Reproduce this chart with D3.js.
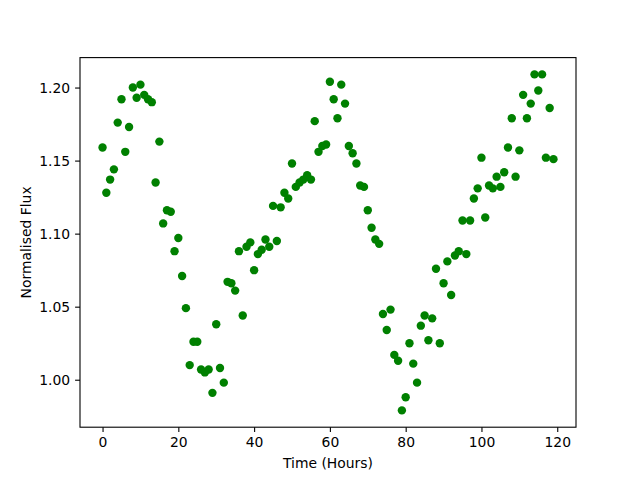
<!doctype html>
<html>
<head>
<meta charset="utf-8" />
<script src="https://d3js.org/d3.v7.min.js"></script>
<style>
  body { margin: 0; background: #fff; }
  text { font-family: "DejaVu Sans", sans-serif; }
</style>
</head>
<body>
<script>
// time in hours, one reading per hour
var hours = d3.range(0, 120);

// normalised flux
var flux = [
  1.159, 1.128, 1.137, 1.144, 1.176, 1.192, 1.156, 1.173, 1.200, 1.193,
  1.202, 1.195, 1.192, 1.190, 1.135, 1.163, 1.107, 1.116, 1.115, 1.088,
  1.097, 1.071, 1.049, 1.010, 1.026, 1.026, 1.007, 1.005, 1.007, 0.991,
  1.038, 1.008, 0.998, 1.067, 1.066, 1.061, 1.088, 1.044, 1.091, 1.094,
  1.075, 1.086, 1.089, 1.096, 1.091, 1.119, 1.095, 1.118, 1.128, 1.124,
  1.148, 1.132, 1.135, 1.137, 1.140, 1.137, 1.177, 1.156, 1.160, 1.161,
  1.204, 1.192, 1.179, 1.202, 1.189, 1.160, 1.155, 1.148, 1.133, 1.132,
  1.116, 1.104, 1.096, 1.093, 1.045, 1.034, 1.048, 1.017, 1.013, 0.979,
  0.988, 1.025, 1.011, 0.998, 1.037, 1.044, 1.027, 1.042, 1.076, 1.025,
  1.066, 1.081, 1.058, 1.085, 1.088, 1.109, 1.086, 1.109, 1.124, 1.131,
  1.152, 1.111, 1.133, 1.131, 1.139, 1.132, 1.142, 1.159, 1.179, 1.139,
  1.157, 1.195, 1.179, 1.189, 1.209, 1.198, 1.209, 1.152, 1.186, 1.151
];

var xTicks = [0, 20, 40, 60, 80, 100, 120];
var yTicks = [1.00, 1.05, 1.10, 1.15, 1.20];

var W = 640, H = 480;
var plotL = 80, plotR = 576, plotT = 57.6, plotB = 427.2;

var svg = d3.select("body").append("svg").attr("width", W).attr("height", H);

function padded(ext) {
  var m = (ext[1] - ext[0]) * 0.05;
  return [ext[0] - m, ext[1] + m];
}

var xScale = d3.scaleLinear().domain(padded(d3.extent(hours))).range([plotL, plotR]);
var yScale = d3.scaleLinear().domain(padded(d3.extent(flux))).range([plotB, plotT]);

// points
svg.append("g").selectAll("circle")
  .data(hours)
  .enter()
  .append("circle")
  .attr("cx", (d, i) => xScale(d))
  .attr("cy", (d, i) => yScale(flux[i]))
  .attr("r", 4.2)
  .style("fill", "#008000");

// axes
var xAxis = d3.axisBottom(xScale).tickValues(xTicks).tickFormat(d3.format("d"))
  .tickSizeInner(4.9).tickSizeOuter(0).tickPadding(4.9);
var yAxis = d3.axisLeft(yScale).tickValues(yTicks).tickFormat(d3.format(".2f"))
  .tickSizeInner(4.9).tickSizeOuter(0).tickPadding(4.9);

svg.append("g").attr("class", "xAxis")
  .attr("transform", `translate(0, ${plotB})`)
  .call(xAxis);
svg.append("g").attr("class", "yAxis")
  .attr("transform", `translate(${plotL}, 0)`)
  .call(yAxis);

svg.selectAll(".xAxis .domain, .yAxis .domain").remove();
svg.selectAll(".tick line").attr("stroke", "#000").attr("stroke-width", 1.1);
svg.selectAll(".tick text").attr("fill", "#000")
  .style("font-family", "'DejaVu Sans', sans-serif").style("font-size", "13.9px");

// frame
svg.append("rect")
  .attr("x", plotL).attr("y", plotT)
  .attr("width", plotR - plotL).attr("height", plotB - plotT)
  .attr("fill", "none").attr("stroke", "#000").attr("stroke-width", 1.1);

// axis labels
svg.append("text")
  .attr("x", (plotL + plotR) / 2).attr("y", 468)
  .attr("text-anchor", "middle")
  .style("font-size", "13.9px")
  .text("Time (Hours)");

svg.append("text")
  .attr("transform", `translate(31, ${(plotT + plotB) / 2}) rotate(-90)`)
  .attr("text-anchor", "middle")
  .style("font-size", "13.9px")
  .text("Normalised Flux");
</script>
</body>
</html>
